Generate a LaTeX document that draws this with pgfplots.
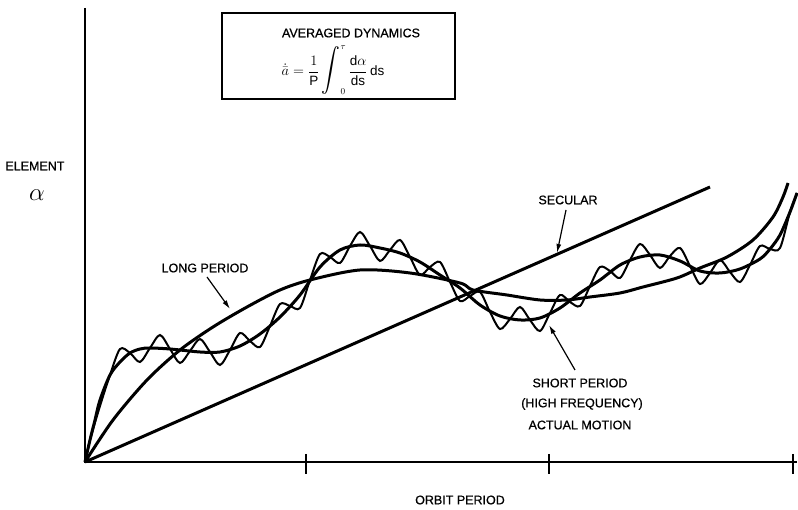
\documentclass[border=0pt]{standalone}
\usepackage{pgfplots}
\pgfplotsset{compat=1.18}
\usepackage{amsmath}
\usepackage{fontspec}
\setmainfont{Liberation Sans}
\newfontfamily\lblfont{Liberation Sans}[FakeBold=0.7]
\usetikzlibrary{arrows.meta}

% curves (x: orbit period, y: element value, arbitrary units)
\pgfplotstableread{
x y
0 0
625 275
}\secular

\pgfplotstableread{
x y
0 0
28 42
62 82
95 112
128 135
162 155
195 172
225 182
275 192
325 189
375 179
388 172
422 167
455 162
482 162
505 165
535 169
558 175
592 184
615 194
642 205
668 222
688 245
698 265
703 279
}\longperiod

\pgfplotstableread{
x y
0 0
5 22
10 42
15 62
25 87
35 100
45 109
55 113
65 114
85 113
115 110
135 110
155 116
175 128
195 145
215 167
235 195
255 212
275 217
295 214
315 209
335 200
355 187
375 174
395 157
415 146
435 142
455 144
475 154
495 169
515 182
535 197
555 205
575 207
595 201
615 191
635 189
655 193
675 203
685 213
695 227
705 250
712 269
}\meanmotion

\pgfplotstableread{
x y
0 0
5 22
15 56
25 87
35 113
45 109
55 100
65 114
75 127
85 113
95 99
105 111
115 123
125 110
135 97
145 112
155 129
165 121
175 115
185 136
195 158
205 156
215 154
225 182
235 208
245 205
255 199
265 216
275 230
285 216
295 201
305 212
315 222
325 205
335 187
345 195
355 200
365 180
375 161
385 166
395 170
405 150
415 133
425 143
435 155
445 142
455 131
465 149
475 167
485 160
495 156
505 176
515 195
525 191
535 184
545 202
555 218
565 207
575 194
585 206
595 214
605 196
615 178
625 189
635 202
645 190
655 180
665 197
675 216
685 213
695 214
705 250
712 269
}\actual

\tikzset{lbl/.style={font=\lblfont\fontsize{12.5}{14}\selectfont},
         arr/.style={line width=1.2pt, -{Latex[length=9pt,width=5pt]}}}

\begin{document}
\begin{tikzpicture}
\begin{axis}[
    width=798pt, height=510pt, scale only axis,
    xmin=-85, xmax=713, ymin=-48, ymax=462,
    hide axis, clip=false,
]
% axes
\addplot[black, line width=1.6pt] coordinates {(0,454) (0,0) (712,0)};
\addplot[black, line width=1.2pt] coordinates {(221,8) (221,-12)};
\addplot[black, line width=1.2pt] coordinates {(464,8) (464,-12)};
\addplot[black, line width=1.2pt] coordinates {(708,8) (708,-12)};

% curves
\addplot[black, line width=3pt] table {\secular};
\addplot[black, line width=3pt, smooth] table {\longperiod};
\addplot[black, line width=3pt, smooth] table {\meanmotion};
\addplot[black, line width=2pt, smooth] table {\actual};

% formula box
\draw[line width=1.6pt] (axis cs:137,363) rectangle (axis cs:370,449);
\node[lbl] at (axis cs:266,429) {AVERAGED DYNAMICS};
\node[font=\fontsize{13.5}{15}\selectfont] at (axis cs:248,392)
  {$\dot{\bar{a}} = \dfrac{1}{\mathrm{P}}\mathop{\scalebox{1.3}[1.5]{$\displaystyle\int$}}\nolimits_{0}^{\tau}\dfrac{\mathrm{d}\alpha}{\mathrm{ds}}\,\mathrm{ds}$};

% labels
\node[lbl, anchor=east] at (axis cs:-17,296) {ELEMENT};
\node[font=\fontsize{24}{26}\selectfont] at (axis cs:-48,267) {$\alpha$};
\node[lbl] at (axis cs:375,-38) {ORBIT PERIOD};
\node[lbl] at (axis cs:483,262) {SECULAR};
\node[lbl] at (axis cs:120,194) {LONG PERIOD};
\node[lbl] at (axis cs:495,79) {SHORT PERIOD};
\node[lbl] at (axis cs:497,58) {(HIGH FREQUENCY)};
\node[lbl] at (axis cs:495,37) {ACTUAL MOTION};

% arrows
\draw[arr] (axis cs:481,252) -- (axis cs:472,209);
\draw[arr] (axis cs:122,185) -- (axis cs:145,153);
\draw[arr] (axis cs:490,92) -- (axis cs:464,137);
\end{axis}
\pgfresetboundingbox
\path[use as bounding box] (0,0) rectangle (798pt,510pt);
\end{tikzpicture}
\end{document}
